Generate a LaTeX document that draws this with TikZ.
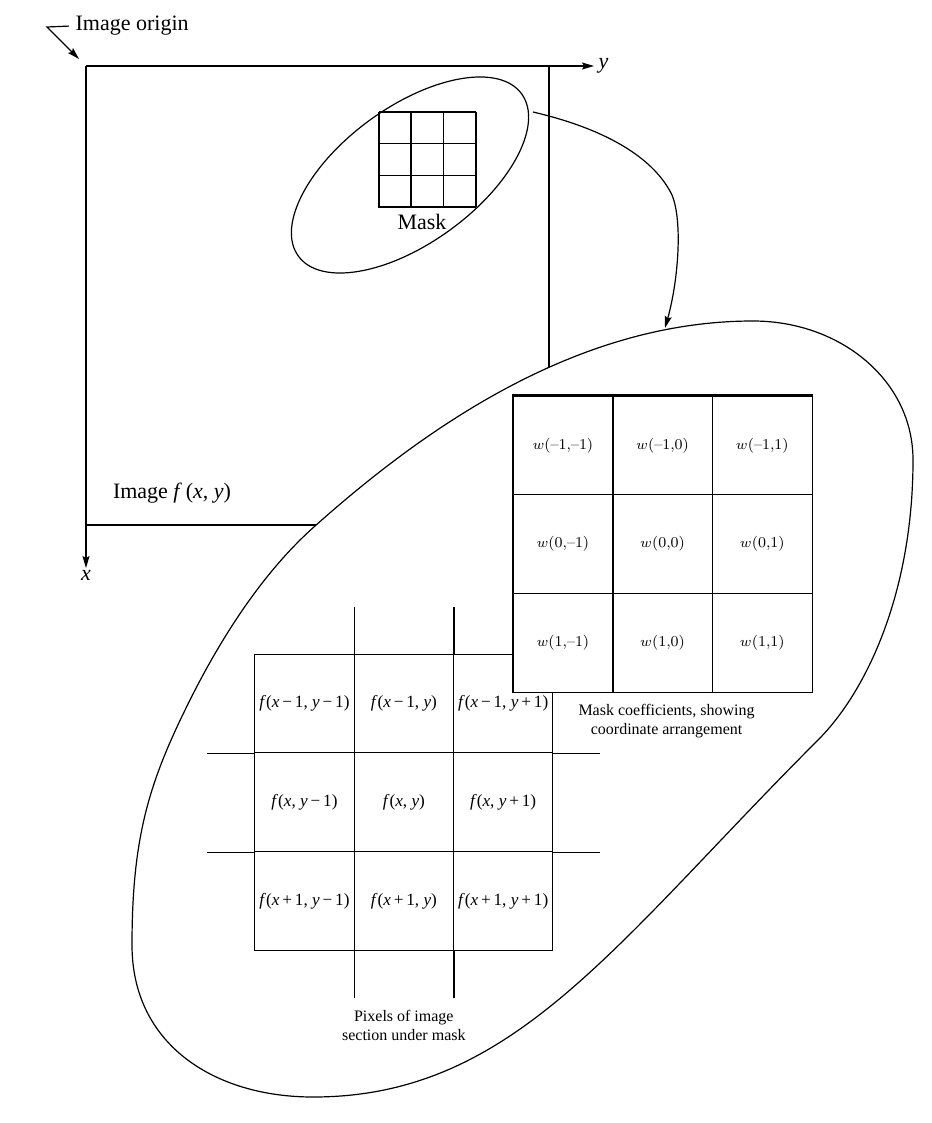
\documentclass[tikz,border=0pt]{standalone}
\usepackage{fontspec}
\newfontfamily\tnr{Liberation Serif}
\usetikzlibrary{positioning}
\usetikzlibrary{arrows.meta}
\newcommand\vx{\textit{x}}
\newcommand\vy{\textit{y}}
\newcommand\mi{\,−\,}
\newcommand\pl{\,+\,}
\tikzset{>={Stealth[length=6pt,width=3.5pt,inset=1pt]}}
\tikzset{heavy/.style={line width=1.1pt}}
\tikzset{lbl/.style={font={\tnr\fontsize{11}{13}\selectfont}}}
\tikzset{note/.style={align=center,font={\tnr\fontsize{8}{9.5}\selectfont}}}
\tikzset{fcell/.style={draw,minimum width=49.65pt,minimum height=49.35pt,inner sep=0pt,font={\tnr\fontsize{8.6}{10}\selectfont}}}
\tikzset{wcell/.style={draw,fill=white,minimum width=49.85pt,minimum height=49.35pt,inner sep=0pt,font={\fontsize{7.5}{9}\selectfont}}}
\begin{document}
\begin{tikzpicture}[x=0.5pt,y=-0.5pt,line width=0.6pt]
\useasboundingbox (0,0) rectangle (931,1123);

% image frame and axes
\coordinate (O) at (86,66);
\coordinate (TR) at (549,66);
\coordinate (BL) at (86,525);
\coordinate (BR) at (549,525);
\coordinate (yend) at (594,66);
\coordinate (xend) at (86,568);
\draw[heavy] (O) -- (TR);
\draw[->] (TR) -- (yend);
\draw[->] (O) -- (xend);
\draw (TR) -- (BR);
\draw[heavy] (BL) -- (BR);
\node[lbl,anchor=west,inner sep=2pt] (ylab) at (yend) {\itshape y};
\node[lbl,anchor=north,inner sep=1pt] (xlab) at (xend) {\itshape x};
\node[lbl] (imgname) at (172,493) {Image \textit{f}\,(\textit{x}, \textit{y})};

\node[lbl,anchor=base west,inner sep=3pt] (orig) at (69,31) {Image origin};
\coordinate (kink) at (47,27);
\coordinate (otip) at (79,59);
\draw[->] (orig.west) -- (kink) -- (otip);

% mask on the image
\coordinate (mc) at (410,175);
\draw[rotate around={36:(mc)}] (mc) ellipse [x radius=69pt, y radius=34pt];
\foreach \i in {0,...,3} {
  \draw ({379+32.33*\i},112) -- ({379+32.33*\i},207);
  \draw (379,{112+31.67*\i}) -- (476,{112+31.67*\i});
}
\draw[heavy] (379,112) -- (379,207) -- (476,207);
\draw[heavy] (411.33,112) -- (411.33,207);
\node[lbl] (masklab) at (422,222) {Mask};

% magnified view
\draw[fill=white] (753,321) .. controls (840,321) and (913,380) .. (913,460)
  .. controls (913,590) and (868,690) .. (818,740)
  .. controls (613,945) and (513,1097) .. (313,1097)
  .. controls (215,1097) and (132,1045) .. (132,945)
  .. controls (132,835) and (149.8,780.5) .. (190,700)
  .. controls (221.3,637.4) and (263,572) .. (315,526)
  .. controls (433.4,420.4) and (583,321) .. (753,321) -- cycle;

% pixels under the mask
\foreach \r/\xs in {0/{\vx\mi1},1/{\vx},2/{\vx\pl1}}
  \foreach \c/\ys in {0/{\vy\mi1},1/{\vy},2/{\vy\pl1}}
    \node[fcell] (f\r\c) at ({304.5+99.33*\c},{703.5+98.67*\r}) {\textit{f}(\xs, \ys)};
\foreach \c in {0,1}
  \draw (f0\c.north east) -- +(0,-47) (f2\c.south east) -- +(0,47);
\foreach \r in {0,1}
  \draw (f\r0.south west) -- +(-47,0) (f\r2.south east) -- +(47,0);
\node[note,below=26pt of f21] (fcap) {Pixels of image\\section under mask};

% mask coefficients
\foreach \r/\rl in {0/–1,1/0,2/1}
  \foreach \c/\cl in {0/–1,1/0,2/1}
    \node[wcell] (w\r\c) at ({562.85+99.7*\c},{445.35+98.7*\r}) {$w$(\rl,\cl)};
\draw[heavy] (w00.north west) -- (w02.north east);
\draw[heavy] (w00.north east) -- (w20.south east);
\node[note,below=2pt of w21,xshift=2pt] (wcap) {Mask coefficients, showing\\coordinate arrangement};

% zoom arrow
\coordinate (cs) at (533,112);
\coordinate (ce) at (665,328);
\draw[->] (cs) .. controls (610,130) and (655,160) .. (672,195)
  .. controls (683,222) and (678,282) .. (ce);
\end{tikzpicture}
\end{document}
